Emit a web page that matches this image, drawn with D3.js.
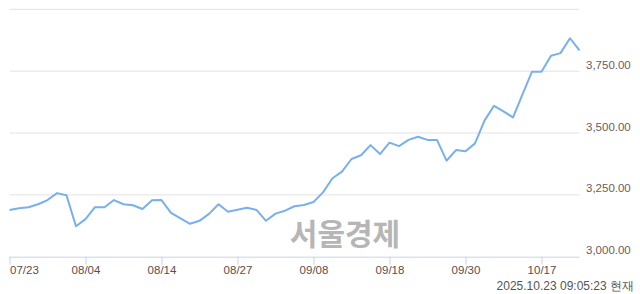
<!DOCTYPE html>
<html>
<head>
<meta charset="utf-8">
<script src="https://cdn.jsdelivr.net/npm/d3@7"></script>
<style>
  body { margin: 0; background: #fff; }
  svg { display: block; }
</style>
</head>
<body>
<div class="container"></div>
<script>
// trading days 07/23 ~ 10/23
const dates = [
    '07/23', '07/24', '07/25', '07/28', '07/29', '07/30', '07/31',
    '08/01', '08/04', '08/05', '08/06', '08/07', '08/08', '08/11', '08/12', '08/13', '08/14',
    '08/18', '08/19', '08/20', '08/21', '08/22', '08/25', '08/26', '08/27', '08/28', '08/29',
    '09/01', '09/02', '09/03', '09/04', '09/05', '09/08', '09/09', '09/10', '09/11', '09/12',
    '09/15', '09/16', '09/17', '09/18', '09/19', '09/22', '09/23', '09/24', '09/25', '09/26',
    '09/29', '09/30', '10/01', '10/02', '10/10', '10/13', '10/14', '10/15', '10/16', '10/17',
    '10/20', '10/21', '10/22', '10/23'
];
const values = [
    3189, 3196, 3200, 3212, 3229, 3257, 3248,
    3123, 3152, 3200, 3200, 3229, 3212, 3208, 3193, 3228, 3229,
    3177, 3155, 3133, 3145, 3173, 3212, 3182, 3190, 3198, 3189,
    3145, 3174, 3186, 3204, 3209, 3221, 3260, 3317, 3344, 3395,
    3410, 3451, 3415, 3461, 3447, 3472, 3485, 3472, 3472, 3388,
    3431, 3426, 3458, 3550, 3610, 3587, 3563, 3656, 3748, 3748,
    3812, 3823, 3883, 3834
];
const xTicks = ['07/23', '08/04', '08/14', '08/27', '09/08', '09/18', '09/30', '10/17'];
const yTicks = [3000, 3250, 3500, 3750, 4000];
const yLabels = [3000, 3250, 3500, 3750];
const stamp = '2025.10.23 09:05:23 현재';
const watermark = '서울경제';

const w = 640;
const h = 294;
const plot = { left: 9.5, right: 579.5, top: 9.3, bottom: 256.7 };

const svg = d3.select('.container')
    .append('svg')
    .attr('width', w)
    .attr('height', h)
    .style('font-family', '"Liberation Sans", Arial, sans-serif');

const x = d3.scalePoint().domain(dates).range([plot.left, plot.right]);
const y = d3.scaleLinear().domain([3000, 4000]).range([plot.bottom, plot.top]);

// grid lines
svg.append('g')
    .selectAll('line')
    .data(yTicks.filter(d => d !== 3000))
    .join('line')
    .attr('x1', plot.left)
    .attr('x2', plot.right)
    .attr('y1', d => y(d))
    .attr('y2', d => y(d))
    .attr('stroke', '#e2e2e2')
    .attr('stroke-width', 1);

// y labels on the right
svg.append('g')
    .selectAll('text')
    .data(yLabels)
    .join('text')
    .attr('x', 586)
    .attr('y', d => y(d) - 2.4)
    .text(d => d3.format(',.2f')(d))
    .style('font-size', '11.5px')
    .attr('fill', '#6e5c5c');

// watermark
svg.append('text')
    .text(watermark)
    .attr('x', 345)
    .attr('y', 245)
    .attr('text-anchor', 'middle')
    .style('font-family', '"Noto Sans CJK KR", sans-serif')
    .style('font-weight', 'bold')
    .style('font-size', '30px')
    .attr('fill', '#b6b6b6');

// x axis
const xAxis = d3.axisBottom(x).tickValues(xTicks).tickSize(8).tickSizeOuter(0);
const gx = svg.append('g')
    .attr('transform', `translate(0, ${plot.bottom})`)
    .call(xAxis);
gx.select('.domain').attr('stroke', '#c6d4ec').attr('d', `M${plot.left},0.5H${plot.right}`);
gx.selectAll('.tick line').attr('stroke', '#c6d4ec');
gx.selectAll('.tick text')
    .attr('y', 17.5)
    .attr('dy', null)
    .style('font-family', '"Liberation Sans", Arial, sans-serif')
    .style('font-size', '11.5px')
    .attr('fill', '#5e4c4c')
    .attr('text-anchor', (d, i) => i === 0 ? 'start' : 'middle');

// price line
const line = d3.line()
    .x((d, i) => x(dates[i]))
    .y(d => y(d));
svg.append('path')
    .datum(values)
    .attr('d', line)
    .attr('fill', 'none')
    .attr('stroke', '#78b0ec')
    .attr('stroke-width', 2)
    .attr('stroke-linejoin', 'round');

// timestamp
svg.append('text')
    .text(stamp)
    .attr('x', 634)
    .attr('y', 290)
    .attr('text-anchor', 'end')
    .style('font-size', '12px')
    .attr('fill', '#555');
</script>
</body>
</html>
